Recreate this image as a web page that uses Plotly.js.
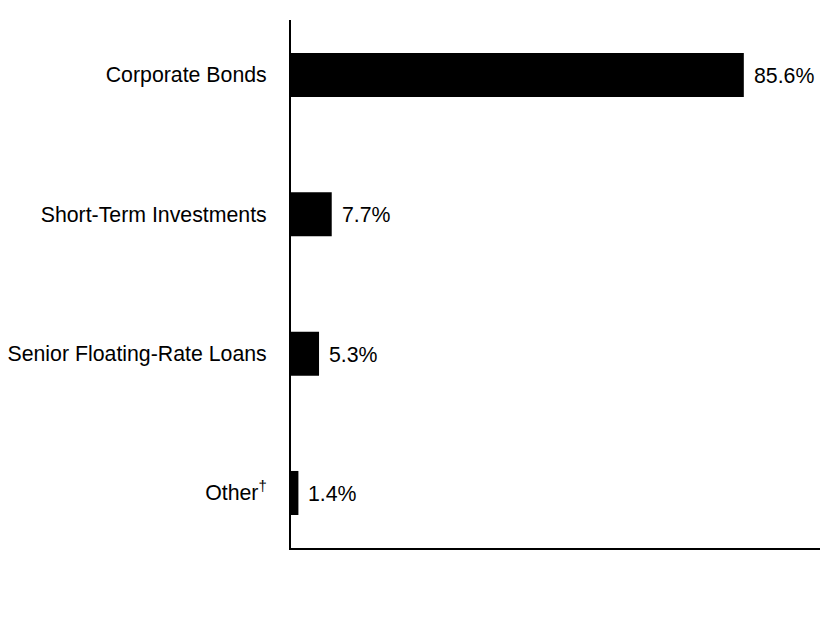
<!DOCTYPE html>
<html>
<head>
<meta charset="utf-8">
<script src="https://cdn.plot.ly/plotly-3.0.1.min.js"></script>
<style>
  html, body { margin: 0; padding: 0; background: #fff; }
  #chart { width: 840px; height: 636px; }
</style>
</head>
<body>
<div id="chart"></div>
<script>
// holdings breakdown, % of net assets
var categories = ["Corporate Bonds", "Short-Term Investments", "Senior Floating-Rate Loans", "Other<sup>†</sup>"];
var values = [85.6, 7.7, 5.3, 1.4];
var valueLabels = ["85.6%", "7.7%", "5.3%", "1.4%"];

var font = "Arial, 'Liberation Sans', sans-serif";

var bars = {
  type: 'bar',
  orientation: 'h',
  x: values,
  y: categories,
  width: 0.316,
  marker: { color: '#000000', line: { width: 0 } },
  hoverinfo: 'none'
};

var labels = values.map(function (v, i) {
  return {
    x: v,
    y: categories[i],
    yshift: -1,
    text: valueLabels[i],
    showarrow: false,
    xanchor: 'left',
    xshift: 8,
    font: { family: font, size: 21.3, color: '#000' }
  };
});

var layout = {
  width: 840,
  height: 636,
  margin: { l: 291, r: 20, t: 20, b: 88, pad: 0 },
  paper_bgcolor: '#fff',
  plot_bgcolor: '#fff',
  showlegend: false,
  font: { family: font, size: 21.3, color: '#000' },
  xaxis: {
    range: [0, 100],
    showgrid: false,
    zeroline: false,
    showticklabels: false,
    ticks: '',
    showline: true,
    linecolor: '#000',
    linewidth: 2,
    fixedrange: true
  },
  yaxis: {
    type: 'category',
    autorange: false,
    range: [3.395, -0.395],
    showgrid: false,
    zeroline: false,
    ticks: '',
    ticklabelstandoff: 18,
    showline: true,
    linecolor: '#000',
    linewidth: 2,
    tickfont: { family: font, size: 21.3, color: '#000' },
    fixedrange: true
  },
  annotations: labels
};

Plotly.newPlot('chart', [bars], layout, { displayModeBar: false, staticPlot: true });
</script>
</body>
</html>
